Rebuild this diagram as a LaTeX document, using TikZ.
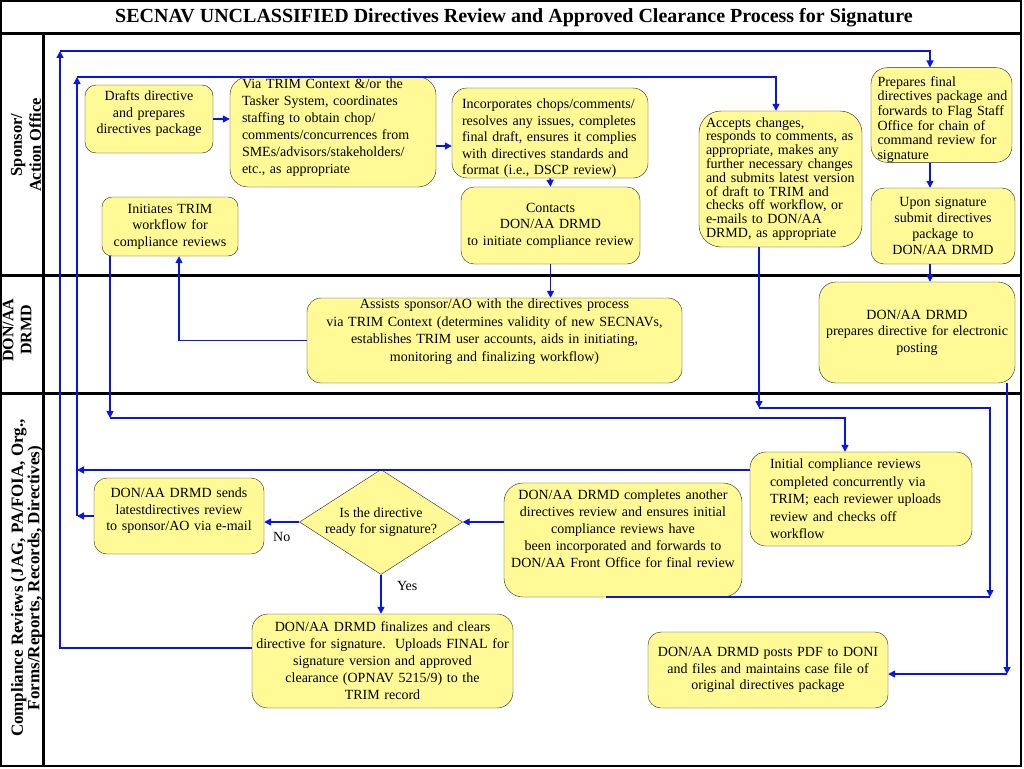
\documentclass[tikz,border=0pt]{standalone}
\usepackage{fontspec}
\setmainfont{Liberation Serif}
\usetikzlibrary{shapes.geometric,arrows.meta}
\definecolor{boxfill}{RGB}{255,250,150}
\definecolor{flowblue}{RGB}{10,20,230}
\tikzset{stepbox/.style={draw=black!85,fill=boxfill,rounded corners=#1,inner sep=0pt,font=\fontsize{14}{16.5}\selectfont,align=center},stepbox/.default=13pt}
\tikzset{leftbox/.style={stepbox=#1,align=left},leftbox/.default=13pt}
\tikzset{decision/.style={diamond,draw=black!85,fill=boxfill,aspect=1.55,inner sep=0pt,font=\fontsize{14}{16.5}\selectfont,align=center}}
\tikzset{flow/.style={draw=flowblue,line width=1.4pt,-{Triangle[length=7pt,width=7pt]}}}
\tikzset{link/.style={draw=flowblue,line width=1.4pt}}
\tikzset{flowlabel/.style={font=\fontsize{14}{16.5}\selectfont}}
\tikzset{lane/.style={line width=3pt}}
\tikzset{lanelabel/.style={rotate=90,align=center,font=\bfseries\fontsize{16.5}{19}\selectfont}}
\newcommand{\raisetext}[1]{\par\kern#1}
\newcommand{\lowertext}[1]{\par\kern#1}
\newcommand{\indenttext}[1]{\leftskip=#1\relax}

\begin{document}
\begin{tikzpicture}[x=1pt,y=-1pt]
\useasboundingbox (0,0) rectangle (1024,768);
\draw[line width=1.5pt] (1,1) rectangle (1021,766);
\foreach \y in {34,275,393} \draw[lane] (1,\y) -- (1021,\y);
\draw[lane] (43,34) -- (43,766);
\node[font=\bfseries\fontsize{20}{24}\selectfont] (title) at (514,18) {SECNAV UNCLASSIFIED Directives Review and Approved Clearance Process for Signature};
\node[lanelabel] (sponsorlbl) at (26,145) {Sponsor/\\Action Office};
\node[lanelabel,font=\bfseries\fontsize{16}{18}\selectfont] (drmdlbl) at (17,330) {DON/AA\\DRMD};
\node[lanelabel,font=\bfseries\fontsize{17}{15}\selectfont] (reviewlbl) at (27,578) {Compliance Reviews (JAG, PA/FOIA, Org.,\\Forms/Reports, Records, Directives)};

\node[stepbox=11pt,minimum width=128pt,minimum height=68pt,text width=124pt] (draft) at (149,119) {Drafts directive\\and prepares\\directives package\raisetext{10pt}};
\node[leftbox=18pt,minimum width=206pt,minimum height=110pt,text width=182pt,font=\fontsize{14}{17}\selectfont] (via) at (333,132) {Via TRIM Context \&/or the\\Tasker System, coordinates\\staffing to obtain chop/\\comments/concurrences from\\SMEs/advisors/stakeholders/\\etc., as appropriate\raisetext{9pt}};
\node[leftbox=15pt,minimum width=196pt,minimum height=90pt,text width=176pt] (incorp) at (550,133) {\lowertext{3.5pt}Incorporates chops/comments/\\resolves any issues, completes\\final draft, ensures it complies\\with directives standards and\\format (i.e., DSCP review)};
\node[stepbox=13pt,minimum width=179pt,minimum height=77pt,text width=177pt] (contacts) at (550.5,225.5) {Contacts\\DON/AA DRMD\\to initiate compliance review};
\node[stepbox=10pt,minimum width=136pt,minimum height=59pt,text width=132pt] (initiate) at (170,226.5) {Initiates TRIM\\workflow for\\compliance reviews};
\node[leftbox=22pt,minimum width=163pt,minimum height=136pt,text width=149pt,font=\fontsize{14}{13.8}\selectfont] (accepts) at (780.5,179) {Accepts changes,\\responds to comments, as\\appropriate, makes any\\further necessary changes\\and submits latest version\\of draft to TRIM and\\checks off workflow, or\\e-mails to DON/AA\\DRMD, as appropriate};
\node[leftbox=16pt,minimum width=141pt,minimum height=94pt,text width=140pt,font=\fontsize{14}{14.6}\selectfont] (prepares) at (941.5,115) {\lowertext{4pt}\indenttext{6pt}Prepares final\\directives package and\\forwards to Flag Staff\\Office for chain of\\command review for\\signature\par};
\node[stepbox=13pt,minimum width=144pt,minimum height=76pt,text width=140pt,font=\fontsize{14}{16}\selectfont] (upon) at (943,226) {Upon signature\\submit directives\\package to\\DON/AA DRMD};
\node[stepbox=14pt,minimum width=375pt,minimum height=85pt,text width=370pt,font=\fontsize{14}{17.5}\selectfont] (assists) at (494.5,340.5) {Assists sponsor/AO with the directives process\\via TRIM Context (determines validity of new SECNAVs,\\establishes TRIM user accounts, aids in initiating,\\monitoring and finalizing workflow)\raisetext{18pt}};
\node[stepbox=17pt,minimum width=196pt,minimum height=101pt,text width=192pt] (electronic) at (917,332.5) {DON/AA DRMD\\prepares directive for electronic\\posting};
\node[leftbox=16pt,minimum width=222pt,minimum height=94pt,text width=182pt,font=\fontsize{14}{17.5}\selectfont] (initial) at (861,499) {Initial compliance reviews\\completed concurrently via\\TRIM; each reviewer uploads\\review and checks off\\workflow};
\node[stepbox=19pt,minimum width=238pt,minimum height=114pt,text width=234pt,font=\fontsize{14}{17}\selectfont] (completes) at (623,540) {DON/AA DRMD completes another\\directives review and ensures initial\\compliance reviews have\\been incorporated and forwards to\\DON/AA Front Office for final review\raisetext{22pt}};
\node[decision,minimum width=163pt,minimum height=105pt] (ready) at (381,522) {Is the directive\\ready for signature?};
\node[stepbox=13pt,minimum width=170pt,minimum height=76pt,text width=166pt] (sends) at (179,516) {DON/AA DRMD sends\\latestdirectives review\\to sponsor/AO via e-mail\raisetext{10pt}};
\node[stepbox=16pt,minimum width=261pt,minimum height=94pt,text width=257pt,font=\fontsize{14}{17}\selectfont] (finalize) at (382.5,661) {DON/AA DRMD finalizes and clears\\directive for signature.\ \ Uploads FINAL for\\signature version and approved\\clearance (OPNAV 5215/9) to the\\TRIM record};
\node[stepbox=13pt,minimum width=240pt,minimum height=76pt,text width=236pt] (posts) at (768,670) {DON/AA DRMD posts PDF to DONI\\and files and maintains case file of\\original directives package};

\coordinate (v2i) at (444,146);
\coordinate (c2i) at (179,340);
\coordinate (mergeI) at (110,418);
\coordinate (i2c) at (845,418);
\coordinate (loopA) at (60,51);
\coordinate (f2l) at (240,648);
\coordinate (p2u) at (930,170);
\coordinate (loopB) at (77,77);
\coordinate (i2l) at (700,470);
\coordinate (mergeA) at (759,408);
\coordinate (mergeC) at (990,597);
\coordinate (c2m) at (606,597);
\coordinate (mergeE) at (1007,674);

\draw[flow] (draft.east) -- (draft.east -| via.west);
\draw[flow] (v2i -| via.east) -- (v2i -| incorp.west);
\draw[flow] (incorp.south) -- (contacts.north);
\draw[flow] (contacts.south) -- (contacts.south |- assists.north);
\draw[flow] (assists.west) -| (c2i |- initiate.south);
\draw[flow] (mergeI |- initiate.south) -- (mergeI);
\draw[flow] (mergeI) -| (i2c |- initial.north);
\draw[flow] (f2l -| finalize.west) -| (loopA);
\draw[flow] (loopA) -| (p2u |- prepares.north);
\draw[flow] (p2u |- prepares.south) -- (p2u |- upon.north);
\draw[flow] (p2u |- upon.south) -- (p2u |- electronic.north);
\draw[flow] (sends.west) -- (sends.west -| loopB);
\draw[flow] (i2l -| initial.west) -- (i2l -| loopB);
\draw[flow] (sends.west -| loopB) -- (loopB);
\draw[flow] (loopB) -| ([xshift=-4.5pt]accepts.north);
\draw[flow] (ready.west) -- (ready.west -| sends.east) node[flowlabel,midway,below=6pt] (no) {No};
\draw[flow] (ready.south) -- (ready.south |- finalize.north) node[flowlabel,pos=0.3,right=12pt] (yes) {Yes};
\draw[flow] (completes.west |- ready.east) -- (ready.east);
\draw[flow] (mergeA |- accepts.south) -- (mergeA);
\draw[flow] (mergeA) -| (mergeC);
\draw[link] (c2m) -- (mergeC);
\draw[flow] (mergeE |- electronic.south) -- (mergeE);
\draw[flow] (mergeE) -- (mergeE -| posts.east);
\end{tikzpicture}
\end{document}
